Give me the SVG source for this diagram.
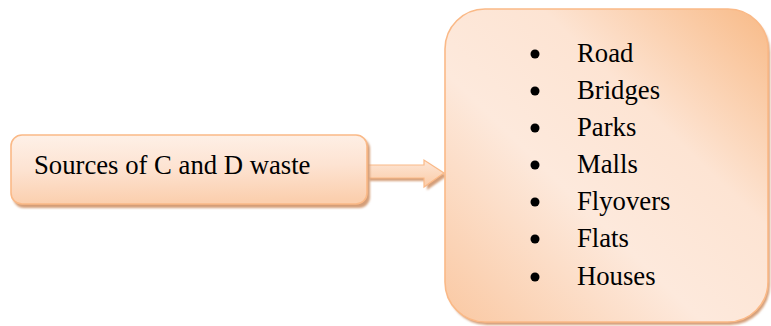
<svg xmlns="http://www.w3.org/2000/svg" width="771" height="326" viewBox="0 0 771 326">
  <defs>
    <linearGradient id="gradSrc" x1="0" y1="0" x2="0.08" y2="1">
      <stop offset="0" stop-color="#fef1e8"/>
      <stop offset="0.5" stop-color="#fde3d2"/>
      <stop offset="1" stop-color="#fbcfae"/>
    </linearGradient>
    <linearGradient id="gradList" x1="1" y1="0" x2="0" y2="1">
      <stop offset="0" stop-color="#f8ba87"/>
      <stop offset="0.35" stop-color="#fde4d3"/>
      <stop offset="0.6" stop-color="#fde9dc"/>
      <stop offset="1" stop-color="#fac8a2"/>
    </linearGradient>
    <linearGradient id="gradArrow" x1="0" y1="0" x2="0" y2="1">
      <stop offset="0" stop-color="#fde6d6"/>
      <stop offset="1" stop-color="#fbcba6"/>
    </linearGradient>
    <filter id="soft" x="-10%" y="-10%" width="120%" height="120%">
      <feGaussianBlur stdDeviation="0.8"/>
    </filter>
  </defs>
  <style>
    .box { stroke: #fab987; stroke-width: 1.6; }
    .shadow { fill: #d49e78; filter: url(#soft); }
    .label { font-family: "Liberation Serif", "Times New Roman", serif; font-size: 26.7px; fill: #000; }
  </style>

  <g id="connectors">
    <path class="shadow" d="M369,168 L427,168 L427,163 L447,176 L427,190 L427,181 L369,181 Z"/>
    <path d="M367,165 L424,165 L424,160 L444,173 L424,187 L424,178 L367,178 Z" fill="url(#gradArrow)" stroke="#fab987" stroke-width="1.2"/>
  </g>

  <g id="node-sources">
    <rect class="shadow" x="13" y="138" width="357" height="70" rx="11"/>
    <rect class="box" x="11" y="135" width="356" height="69" rx="11" fill="url(#gradSrc)"/>
    <text class="label" x="34" y="174">Sources of C and D waste</text>
  </g>

  <g id="node-list">
    <rect class="shadow" x="447" y="12" width="323" height="313" rx="40"/>
    <rect class="box" x="445" y="9" width="323" height="313" rx="40" fill="url(#gradList)"/>
    <g fill="#000">
      <circle cx="535" cy="54" r="4.5"/>
      <circle cx="535" cy="91" r="4.5"/>
      <circle cx="535" cy="128" r="4.5"/>
      <circle cx="535" cy="165" r="4.5"/>
      <circle cx="535" cy="202" r="4.5"/>
      <circle cx="535" cy="239" r="4.5"/>
      <circle cx="535" cy="277" r="4.5"/>
    </g>
    <text class="label" x="577" y="62">Road</text>
    <text class="label" x="577" y="99">Bridges</text>
    <text class="label" x="577" y="136">Parks</text>
    <text class="label" x="577" y="173">Malls</text>
    <text class="label" x="577" y="210">Flyovers</text>
    <text class="label" x="577" y="247">Flats</text>
    <text class="label" x="577" y="285">Houses</text>
  </g>
</svg>
